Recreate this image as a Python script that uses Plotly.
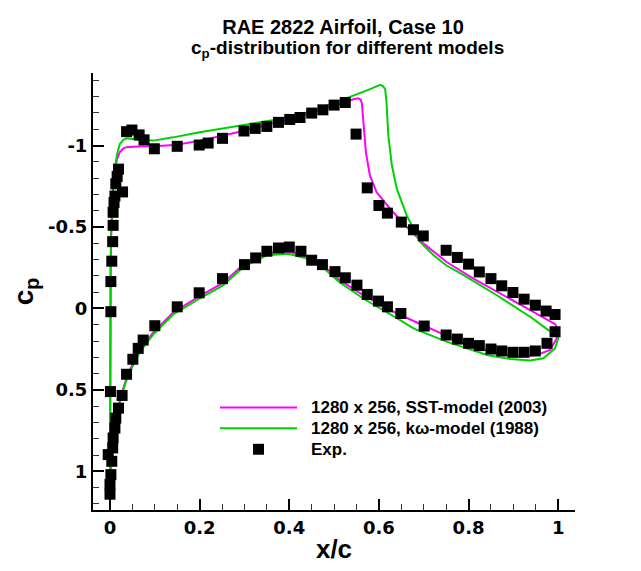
import plotly.graph_objects as go

# ---------------- data ----------------
# Experimental points (x/c, cp)
EXP_X = [0.002, 0.002, 0.004, 0.006, 0.007, 0.007, 0.009, 0.011, 0.013, 0.016, 0.019, 0.028,
         0.037, 0.049, 0.065, 0.076, 0.099, 0.150, 0.199, 0.219, 0.251, 0.299, 0.324, 0.350,
         0.376, 0.401, 0.424, 0.450, 0.475, 0.500, 0.525, 0.549, 0.574, 0.600, 0.619, 0.650,
         0.677, 0.699, 0.750, 0.775, 0.800, 0.824, 0.850, 0.874, 0.899, 0.924, 0.949, 0.973,
         0.993,
         0.993, 0.975, 0.949, 0.924, 0.899, 0.874, 0.850, 0.824, 0.800, 0.775, 0.750, 0.701,
         0.649, 0.619, 0.599, 0.574, 0.551, 0.525, 0.502, 0.474, 0.450, 0.426, 0.400, 0.376,
         0.350, 0.325, 0.300, 0.251, 0.199, 0.150, 0.100, 0.074, 0.063, 0.051, 0.037, 0.027,
         0.019, 0.013, 0.011, 0.007, 0.006, 0.004, 0.002, 0.000, 0.000, -0.004, 0.001]
EXP_CP = [0.02, -0.165, -0.29, -0.41, -0.51, -0.59, -0.65, -0.69, -0.765, -0.81, -0.855, -0.715,
          -1.085, -1.095, -1.065, -1.035, -0.98, -0.995, -1.003, -1.015, -1.044, -1.089, -1.105, -1.117,
          -1.142, -1.16, -1.172, -1.199, -1.219, -1.248, -1.264, -1.070, -0.740, -0.632, -0.585, -0.530,
          -0.483, -0.445, -0.357, -0.313, -0.272, -0.224, -0.183, -0.139, -0.098, -0.057, -0.020, 0.016,
          0.037,
          0.143, 0.214, 0.261, 0.269, 0.269, 0.261, 0.249, 0.228, 0.214, 0.188, 0.163, 0.108,
          0.031, -0.010, -0.045, -0.086, -0.143, -0.188, -0.226, -0.269, -0.296, -0.351, -0.377, -0.371,
          -0.351, -0.310, -0.269, -0.183, -0.096, -0.010, 0.106, 0.194, 0.245, 0.312, 0.404, 0.534,
          0.612, 0.673, 0.734, 0.795, 0.856, 0.938, 1.02, 1.08, 1.14, 0.897, 0.51]

# SST-model (2003): upper surface from stagnation point to trailing edge
SST_UP_X = [0.0, 0.0003, 0.0008, 0.0015, 0.0025, 0.0045, 0.007, 0.011, 0.016, 0.022, 0.030, 0.037,
            0.045, 0.07, 0.1, 0.15, 0.2, 0.25, 0.3, 0.35, 0.394, 0.45, 0.5, 0.525, 0.545, 0.554,
            0.559, 0.562, 0.565, 0.571, 0.580, 0.595, 0.625, 0.662, 0.699, 0.751, 0.811, 0.878,
            0.9375, 0.978, 0.995]
SST_UP_CP = [1.12, 0.6, 0.1, -0.25, -0.45, -0.6, -0.74, -0.85, -0.92, -0.96, -0.982, -0.99,
             -0.993, -0.995, -0.995, -1.005, -1.03, -1.06, -1.09, -1.125, -1.16, -1.2, -1.245, -1.268, -1.285, -1.29,
             -1.282, -1.26, -1.142, -0.958, -0.815, -0.713, -0.612, -0.5, -0.4, -0.285, -0.183, -0.081,
             0.01, 0.072, 0.10]
# SST-model (2003): lower surface from leading edge to trailing edge
SST_LO_X = [0.002, 0.005, 0.01, 0.015, 0.026, 0.041, 0.067, 0.097, 0.141, 0.2, 0.253, 0.298, 0.35,
            0.398, 0.439, 0.476, 0.51, 0.565, 0.64, 0.714, 0.789, 0.863, 0.908, 0.952, 0.982, 0.997,
            0.995]
SST_LO_CP = [1.0, 0.86, 0.73, 0.64, 0.52, 0.395, 0.25, 0.145, 0.025, -0.075, -0.158, -0.27, -0.34,
             -0.35, -0.32, -0.262, -0.18, -0.081, 0.031, 0.122, 0.214, 0.275, 0.296, 0.286, 0.255, 0.183,
             0.10]

# k-omega model (1988): upper surface
KW_UP_X = [0.0, 0.0003, 0.0008, 0.0015, 0.0025, 0.0045, 0.007, 0.011, 0.016, 0.022, 0.030, 0.037,
           0.045, 0.067, 0.097, 0.141, 0.2, 0.275, 0.33, 0.379, 0.454, 0.532, 0.575, 0.603, 0.609,
           0.614, 0.617, 0.621, 0.629, 0.640, 0.662, 0.692, 0.722, 0.750, 0.789, 0.863, 0.9375,
           0.978, 1.0]
KW_UP_CP = [1.12, 0.6, 0.1, -0.25, -0.45, -0.6, -0.74, -0.86, -0.95, -1.01, -1.035, -1.044,
            -1.042, -1.034, -1.03, -1.05, -1.081, -1.117, -1.14, -1.162, -1.213, -1.295, -1.34, -1.372, -1.365,
            -1.346, -1.264, -1.06, -0.877, -0.734, -0.571, -0.408, -0.326, -0.265, -0.204, -0.081, 0.051,
            0.133, 0.17]
# k-omega model (1988): lower surface
KW_LO_X = [0.002, 0.005, 0.01, 0.015, 0.026, 0.041, 0.067, 0.097, 0.141, 0.2, 0.253, 0.298, 0.35,
           0.398, 0.439, 0.476, 0.51, 0.565, 0.64, 0.677, 0.751, 0.841, 0.893, 0.9375, 0.967, 0.993,
           1.0, 1.0]
KW_LO_CP = [1.0, 0.86, 0.74, 0.65, 0.53, 0.408, 0.265, 0.159, 0.037, -0.061, -0.143, -0.255, -0.326,
            -0.336, -0.306, -0.249, -0.165, -0.061, 0.06, 0.122, 0.204, 0.286, 0.31, 0.32, 0.306, 0.245,
            0.183, 0.17]

X_TICKS = [0, 0.2, 0.4, 0.6, 0.8, 1]
X_TICK_TEXT = ["0", "0.2", "0.4", "0.6", "0.8", "1"]
Y_TICKS = [-1, -0.5, 0, 0.5, 1]
Y_TICK_TEXT = ["-1", "-0.5", "0", "0.5", "1"]
X_MINOR = [round(0.05 * i, 2) for i in range(0, 21)]
Y_MINOR = [round(-1.4 + 0.1 * i, 1) for i in range(0, 27)]

SERIES_NAMES = ["1280 x 256, SST-model (2003)", "1280 x 256, kω-model (1988)", "Exp."]
COL_SST = "#FF00FF"
COL_KW = "#00D200"

# ---------------- figure ----------------
W, H = 641, 571
L, R, T, B = 93, 66, 73, 59
PW, PH = W - L - R, H - T - B


def px(xp):
    return (xp - L) / PW


def py(yp):
    return (H - B - yp) / PH


fig = go.Figure()
fig.add_trace(go.Scatter(x=SST_UP_X[::-1] + SST_LO_X, y=SST_UP_CP[::-1] + SST_LO_CP,
                         mode="lines", line=dict(color=COL_SST, width=2),
                         name=SERIES_NAMES[0], showlegend=False))
fig.add_trace(go.Scatter(x=KW_UP_X[::-1] + KW_LO_X, y=KW_UP_CP[::-1] + KW_LO_CP,
                         mode="lines", line=dict(color=COL_KW, width=2),
                         name=SERIES_NAMES[1], showlegend=False))
fig.add_trace(go.Scatter(x=EXP_X, y=EXP_CP, mode="markers",
                         marker=dict(symbol="square", size=11, color="black", line=dict(width=0)),
                         name=SERIES_NAMES[2], showlegend=False))

tickfont = dict(family="DejaVu Sans", size=18, color="black", weight="bold")
fig.update_layout(
    width=W, height=H, autosize=False,
    margin=dict(l=L, r=R, t=T, b=B),
    paper_bgcolor="white", plot_bgcolor="white",
    title=dict(text="RAE 2822 Airfoil, Case 10", x=343 / W, xanchor="center",
               y=1 - 26.5 / H, yanchor="middle", yref="container",
               font=dict(family="Liberation Sans", size=20, color="black", weight="bold")),
    xaxis=dict(range=[-0.0379, 1.0375], showgrid=False, zeroline=False,
               showline=True, linecolor="black", linewidth=2,
               ticks="inside", ticklen=11, tickwidth=2, tickcolor="black",
               tickmode="array", tickvals=X_TICKS, ticktext=X_TICK_TEXT, tickfont=tickfont,
               minor=dict(tickmode="array", tickvals=X_MINOR, ticks="inside", ticklen=6,
                          tickwidth=1, tickcolor="#333"),
               title=dict(text="x/c", standoff=3,
                          font=dict(family="Liberation Sans", size=26, color="black", weight="bold"))),
    yaxis=dict(range=[1.237, -1.445], showgrid=False, zeroline=False,
               showline=True, linecolor="black", linewidth=2,
               ticks="inside", ticklen=11, tickwidth=2, tickcolor="black",
               tickmode="array", tickvals=Y_TICKS, ticktext=Y_TICK_TEXT, tickfont=tickfont,
               minor=dict(tickmode="array", tickvals=Y_MINOR, ticks="inside", ticklen=6,
                          tickwidth=1, tickcolor="#333"),
               title=dict(text="c<sub>p</sub>", standoff=6,
                          font=dict(family="Liberation Sans", size=28, color="black", weight="bold"))),
)

# second title line
fig.add_annotation(text="c<sub>p</sub>-distribution for different models",
                   xref="paper", yref="paper", x=px(347), y=py(49),
                   xanchor="center", yanchor="middle", showarrow=False,
                   font=dict(family="Liberation Sans", size=19, color="black", weight="bold"))

# custom legend
leg_rows = [409, 430, 451]
fig.add_shape(type="line", xref="paper", yref="paper", x0=px(220), x1=px(297),
              y0=py(leg_rows[0]), y1=py(leg_rows[0]), line=dict(color=COL_SST, width=2))
fig.add_shape(type="line", xref="paper", yref="paper", x0=px(220), x1=px(297),
              y0=py(leg_rows[1]), y1=py(leg_rows[1]), line=dict(color=COL_KW, width=2))
fig.add_shape(type="rect", xref="paper", yref="paper", x0=px(253), x1=px(264),
              y0=py(leg_rows[2] + 5.5), y1=py(leg_rows[2] - 5.5),
              fillcolor="black", line=dict(width=0))
for name, row in zip(SERIES_NAMES, leg_rows):
    fig.add_annotation(text=name, xref="paper", yref="paper", x=px(309), y=py(row),
                       xanchor="left", yanchor="middle", showarrow=False,
                       font=dict(family="Liberation Sans", size=17, color="black", weight="bold"))

fig.write_html("out.html")
